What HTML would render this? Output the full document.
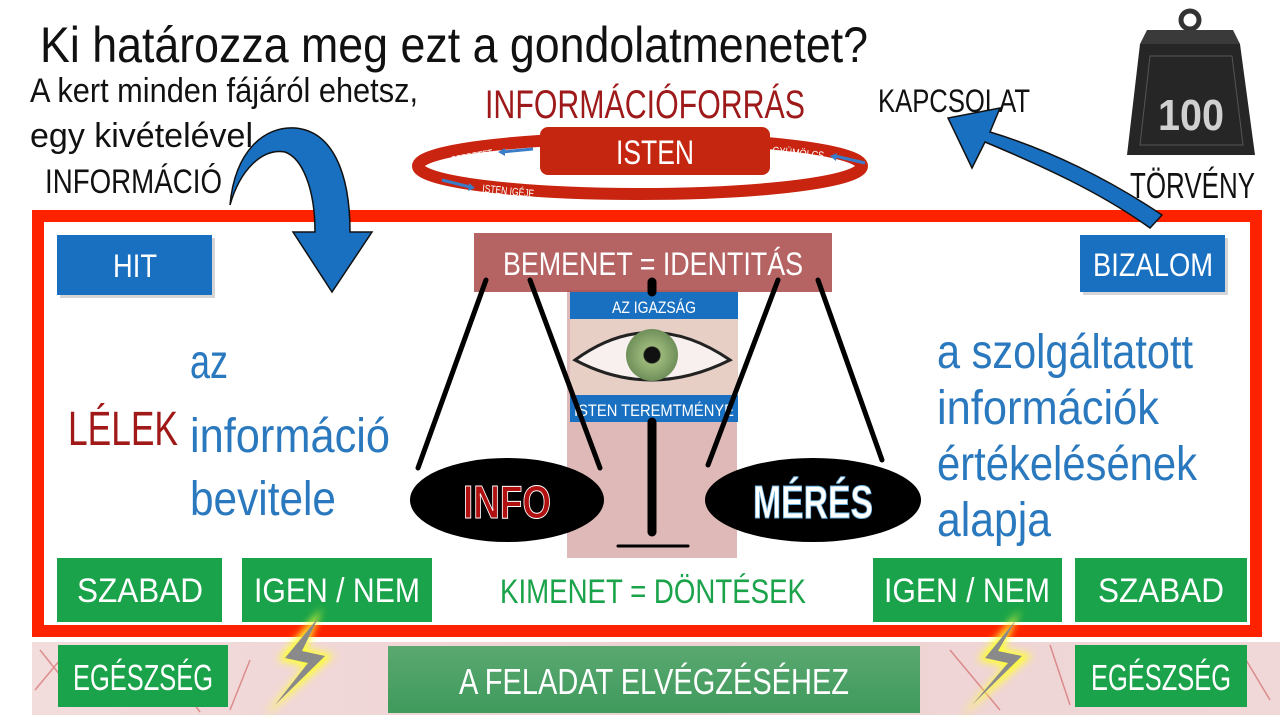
<!DOCTYPE html>
<html><head><meta charset="utf-8"><style>
html,body{margin:0;padding:0;background:#fff;}
svg{display:block;}
text{font-family:"Liberation Sans",sans-serif;}
</style></head><body>
<svg width="1280" height="720" viewBox="0 0 1280 720" xmlns="http://www.w3.org/2000/svg">
<defs>
<linearGradient id="bg" x1="0" y1="0" x2="1" y2="0">
<stop offset="0" stop-color="#f3dcdc"/><stop offset="0.5" stop-color="#eed2d2"/><stop offset="1" stop-color="#f0d8d8"/>
</linearGradient>
<linearGradient id="gf" x1="0" y1="0" x2="0" y2="1">
<stop offset="0" stop-color="#5aa870"/><stop offset="1" stop-color="#3f9a5c"/>
</linearGradient>
<radialGradient id="iris"><stop offset="0" stop-color="#111"/><stop offset="0.3" stop-color="#111"/><stop offset="0.35" stop-color="#9bb87a"/><stop offset="1" stop-color="#6f8f5a"/></radialGradient>
<filter id="glow"><feGaussianBlur stdDeviation="4"/></filter>
</defs>

<!-- title -->
<text x="40" y="62" font-size="50" fill="#111" textLength="828" lengthAdjust="spacingAndGlyphs">Ki határozza meg ezt a gondolatmenetet?</text>
<text x="30" y="102" font-size="34" fill="#111" textLength="388" lengthAdjust="spacingAndGlyphs">A kert minden fájáról ehetsz,</text>
<text x="30" y="147" font-size="34" fill="#111" textLength="223" lengthAdjust="spacingAndGlyphs">egy kivételével</text>
<text x="45" y="193" font-size="34" fill="#111" textLength="177" lengthAdjust="spacingAndGlyphs">INFORMÁCIÓ</text>

<!-- ring -->
<text x="485" y="118" font-size="40" fill="#9e1a1a" textLength="320" lengthAdjust="spacingAndGlyphs">INFORMÁCIÓFORRÁS</text>
<ellipse cx="640" cy="166" rx="222" ry="28" fill="none" stroke="#c8240f" stroke-width="12"/>
<rect x="540" y="127" width="230" height="48" rx="8" fill="#c4260f"/>
<text x="655" y="164" font-size="34" fill="#fff" text-anchor="middle" textLength="78" lengthAdjust="spacingAndGlyphs">ISTEN</text>
<text x="452" y="164" font-size="11" fill="#fff" transform="rotate(-10 452 164)" textLength="42" lengthAdjust="spacingAndGlyphs">SZERETET</text>
<text x="772" y="154" font-size="11" fill="#fff" transform="rotate(6 772 154)" textLength="52" lengthAdjust="spacingAndGlyphs">GYÜMÖLCS</text>
<text x="482" y="192" font-size="11" fill="#fff" transform="rotate(6 482 192)" textLength="52" lengthAdjust="spacingAndGlyphs">ISTEN IGÉJE</text>
<path d="M533,149 L502,152" stroke="#3a7cc8" stroke-width="3"/><path d="M498,152 l7,-4 l0,8z" fill="#3a7cc8"/>
<path d="M865,163 L835,156" stroke="#3a7cc8" stroke-width="3"/><path d="M830,156 l7,-3 l-1,8z" fill="#3a7cc8"/>
<path d="M442,180 L470,187" stroke="#3a7cc8" stroke-width="3"/><path d="M475,188 l-7,3 l1,-8z" fill="#3a7cc8"/>

<!-- weight -->
<circle cx="1190" cy="20" r="9" fill="none" stroke="#333" stroke-width="5"/>
<path d="M1147,30 L1233,30 L1240,44 L1140,44 Z" fill="#3a3a3a"/>
<path d="M1140,44 L1240,44 L1255,155 L1127,155 Z" fill="#262626"/>
<path d="M1150,56 L1232,56 L1243,145 L1140,145 Z" fill="none" stroke="#555" stroke-width="1"/>
<text x="1191" y="130" font-size="44" font-weight="bold" fill="#d0d0d0" text-anchor="middle" textLength="66" lengthAdjust="spacingAndGlyphs">100</text>
<text x="1130" y="198" font-size="36" fill="#111" textLength="125" lengthAdjust="spacingAndGlyphs">TÖRVÉNY</text>
<text x="878" y="112" font-size="32" fill="#111" textLength="152" lengthAdjust="spacingAndGlyphs">KAPCSOLAT</text>

<!-- frame -->
<rect x="38" y="216" width="1218" height="415" fill="#fff" stroke="#ff2200" stroke-width="12"/>

<!-- arrows (over frame) -->
<path d="M230,205 C235,150 265,126 295,128 C332,131 350,172 350,232 L372,232 L332,292 L293,232 L315,232 C315,188 302,158 285,152 C262,148 240,170 230,205 Z" fill="#1a70c0" stroke="#111" stroke-width="1.5"/>
<path d="M1150,228 C1100,192 1040,165 985,142 L972,168 L948,118 L1000,108 L990,132 C1050,150 1110,180 1162,215 Z" fill="#1a70c0" stroke="#111" stroke-width="1.5"/>

<!-- pink column -->
<rect x="567" y="290" width="170" height="268" fill="#d4a0a0" opacity="0.75"/>
<rect x="474" y="233" width="358" height="59" fill="#a84848" opacity="0.85"/>
<text x="653" y="275" font-size="32" fill="#fff" text-anchor="middle" textLength="300" lengthAdjust="spacingAndGlyphs">BEMENET = IDENTITÁS</text>
<!-- eye -->
<rect x="570" y="318" width="168" height="78" fill="#e8cfc6"/>
<path d="M575,360 Q650,305 730,360 Q650,400 575,360Z" fill="#f7f0ee" stroke="#222" stroke-width="3"/>
<circle cx="652" cy="355" r="26" fill="url(#iris)"/>
<rect x="570" y="292" width="168" height="27" fill="#1a70c0"/>
<text x="654" y="313" font-size="17" fill="#fff" text-anchor="middle" textLength="84" lengthAdjust="spacingAndGlyphs">AZ IGAZSÁG</text>
<rect x="570" y="395" width="168" height="27" fill="#1a70c0"/>
<text x="654" y="416" font-size="17" fill="#fff" text-anchor="middle" textLength="160" lengthAdjust="spacingAndGlyphs">ISTEN TEREMTMÉNYE</text>

<!-- scale lines -->
<g stroke="#000" stroke-linecap="round">
<line x1="486" y1="280" x2="418" y2="468" stroke-width="5"/>
<line x1="530" y1="280" x2="600" y2="468" stroke-width="5"/>
<line x1="778" y1="280" x2="708" y2="465" stroke-width="5"/>
<line x1="818" y1="280" x2="882" y2="460" stroke-width="5"/>
<line x1="652" y1="282" x2="652" y2="292" stroke-width="9"/>
<line x1="652" y1="422" x2="652" y2="532" stroke-width="9"/>
<line x1="618" y1="546" x2="688" y2="546" stroke-width="3"/>
</g>
<ellipse cx="507" cy="500" rx="97" ry="42" fill="#000"/>
<text x="507" y="518" font-size="46" font-weight="bold" fill="#b01010" stroke="#fff" stroke-width="1" text-anchor="middle" textLength="88" lengthAdjust="spacingAndGlyphs">INFO</text>
<ellipse cx="813" cy="500" rx="108" ry="42" fill="#000"/>
<text x="813" y="518" font-size="46" font-weight="bold" fill="#fff" stroke="#6ab0e0" stroke-width="1" text-anchor="middle" textLength="120" lengthAdjust="spacingAndGlyphs">MÉRÉS</text>

<!-- HIT / BIZALOM -->
<rect x="60" y="238" width="155" height="60" fill="#888" opacity="0.35"/>
<rect x="57" y="235" width="155" height="60" fill="#1a70c0"/>
<text x="135" y="277" font-size="32" fill="#fff" text-anchor="middle" textLength="44" lengthAdjust="spacingAndGlyphs">HIT</text>
<rect x="1083" y="238" width="145" height="57" fill="#888" opacity="0.35"/>
<rect x="1080" y="235" width="145" height="57" fill="#1a70c0"/>
<text x="1153" y="276" font-size="32" fill="#fff" text-anchor="middle" textLength="120" lengthAdjust="spacingAndGlyphs">BIZALOM</text>

<!-- texts -->
<text x="68" y="445" font-size="48" fill="#a01818" textLength="110" lengthAdjust="spacingAndGlyphs">LÉLEK</text>
<g fill="#2a78be" font-size="48">
<text x="190" y="378" textLength="38" lengthAdjust="spacingAndGlyphs">az</text>
<text x="190" y="452" textLength="200" lengthAdjust="spacingAndGlyphs">információ</text>
<text x="190" y="515" textLength="146" lengthAdjust="spacingAndGlyphs">bevitele</text>
<text x="937" y="368" textLength="256" lengthAdjust="spacingAndGlyphs">a szolgáltatott</text>
<text x="937" y="424" textLength="222" lengthAdjust="spacingAndGlyphs">információk</text>
<text x="937" y="480" textLength="260" lengthAdjust="spacingAndGlyphs">értékelésének</text>
<text x="937" y="536" textLength="114" lengthAdjust="spacingAndGlyphs">alapja</text>
</g>

<!-- green row -->
<g fill="#1aa34a">
<rect x="57" y="558" width="165" height="64"/>
<rect x="242" y="558" width="190" height="64"/>
<rect x="873" y="558" width="189" height="64"/>
<rect x="1075" y="558" width="172" height="64"/>
</g>
<g fill="#fff" font-size="34" text-anchor="middle">
<text x="140" y="602" textLength="126" lengthAdjust="spacingAndGlyphs">SZABAD</text>
<text x="337" y="602" textLength="166" lengthAdjust="spacingAndGlyphs">IGEN / NEM</text>
<text x="967" y="602" textLength="166" lengthAdjust="spacingAndGlyphs">IGEN / NEM</text>
<text x="1161" y="602" textLength="126" lengthAdjust="spacingAndGlyphs">SZABAD</text>
</g>
<text x="653" y="603" font-size="34" fill="#1aa34a" text-anchor="middle" textLength="306" lengthAdjust="spacingAndGlyphs">KIMENET = DÖNTÉSEK</text>

<!-- bottom strip -->
<rect x="32" y="642" width="1250" height="73" fill="url(#bg)"/>
<g stroke="#c84040" stroke-width="1.5" opacity="0.5" fill="none">
<path d="M40,650 L80,700 M150,645 L200,712 M250,660 L230,710 M950,650 L1000,710 M1050,645 L1070,705 M1240,650 L1270,700 M35,690 L60,660"/>
</g>
<g fill="#1aa34a">
<rect x="58" y="645" width="170" height="62"/>
<rect x="1075" y="645" width="172" height="62"/>
</g>
<rect x="388" y="646" width="532" height="67" fill="url(#gf)"/>
<g fill="#fff" font-size="36" text-anchor="middle">
<text x="143" y="690" textLength="140" lengthAdjust="spacingAndGlyphs">EGÉSZSÉG</text>
<text x="1161" y="690" textLength="140" lengthAdjust="spacingAndGlyphs">EGÉSZSÉG</text>
<text x="654" y="694" textLength="390" lengthAdjust="spacingAndGlyphs">A FELADAT ELVÉGZÉSÉHEZ</text>
</g>
<!-- lightning -->
<g>
<path d="M322,608 L278,660 L305,666 L265,716 L334,655 L306,649 Z" fill="#ffff30" filter="url(#glow)"/>
<path d="M318,618 L285,658 L308,663 L275,705 L325,656 L302,651 Z" fill="#8a8a8a"/>
<path d="M1020,610 L978,660 L1005,666 L962,716 L1032,655 L1003,649 Z" fill="#ffff30" filter="url(#glow)"/>
<path d="M1016,620 L985,658 L1008,663 L972,705 L1022,656 L998,651 Z" fill="#8a8a8a"/>
</g>
</svg>
</body></html>
